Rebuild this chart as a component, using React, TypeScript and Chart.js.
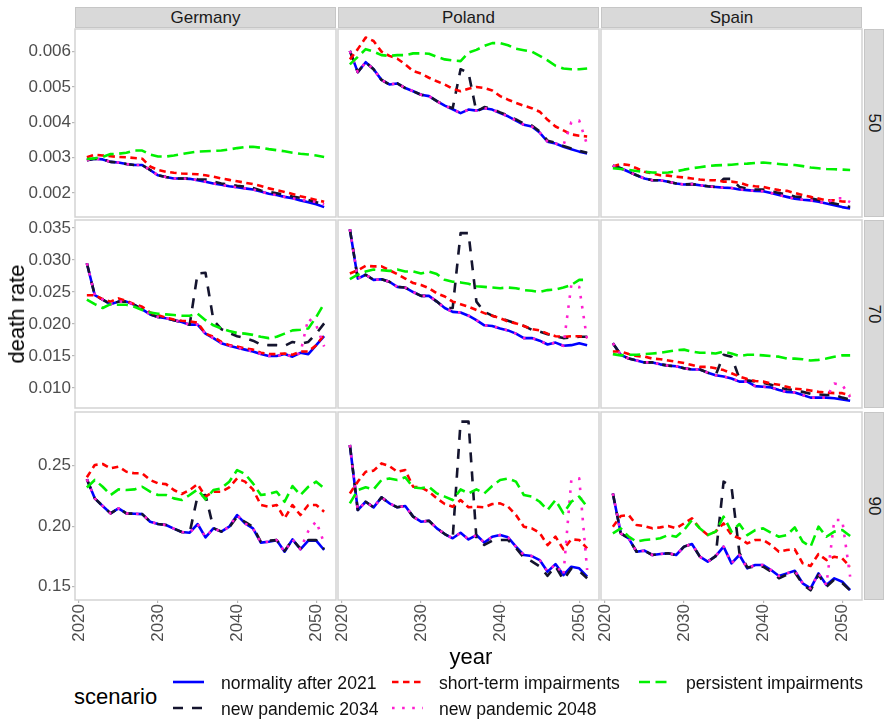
import { useEffect, useRef } from 'react';
import { Chart, registerables } from 'chart.js';

Chart.register(...registerables);

// ---------- data ----------
const years = [
  2021, 2022, 2023, 2024, 2025, 2026, 2027, 2028, 2029, 2030,
  2031, 2032, 2033, 2034, 2035, 2036, 2037, 2038, 2039, 2040,
  2041, 2042, 2043, 2044, 2045, 2046, 2047, 2048, 2049, 2050, 2051,
];
const countries = ['Germany', 'Poland', 'Spain'];
const ages = ['50', '70', '90'];
const scenarios = [
  'normality after 2021',
  'new pandemic 2034',
  'short-term impairments',
  'new pandemic 2048',
  'persistent impairments',
];
const xTicks = [2020, 2030, 2040, 2050];
const yTicks50 = [0.002, 0.003, 0.004, 0.005, 0.006];
const yTickLabels50 = ['0.002', '0.003', '0.004', '0.005', '0.006'];
const yTicks70 = [0.01, 0.015, 0.02, 0.025, 0.03, 0.035];
const yTickLabels70 = ['0.010', '0.015', '0.020', '0.025', '0.030', '0.035'];
const yTicks90 = [0.15, 0.2, 0.25];
const yTickLabels90 = ['0.15', '0.20', '0.25'];
const yRange50 = [0.00132, 0.00664];
const yRange70 = [0.00688, 0.03625];
const yRange90 = [0.139, 0.29438];

// the two pandemic scenarios follow "normality" until the year of the new outbreak
const PANDEMIC_2034_FROM = 13; // index of 2034
const PANDEMIC_2048_FROM = 27; // index of 2048

// Germany, age 50
const DE50_NORMAL = [
  0.00293, 0.00297, 0.00295, 0.00288, 0.00286, 0.00282, 0.00279, 0.00279, 0.00265, 0.0025,
  0.00245, 0.00241, 0.00241, 0.0024, 0.00236, 0.00232, 0.00227, 0.00223, 0.00219, 0.00216,
  0.00213, 0.0021, 0.00204, 0.00198, 0.00194, 0.00189, 0.00185, 0.00179, 0.00174, 0.00168, 0.0016,
];
const DE50_P2034_TAIL = [
  0.00241, 0.00239, 0.00238, 0.00232, 0.00227, 0.00224, 0.0022,
  0.00218, 0.00214, 0.00207, 0.00203, 0.00199, 0.00195, 0.0019, 0.00186, 0.0018, 0.00174, 0.00166,
];
const DE50_SHORT = [
  0.00301, 0.00308, 0.00306, 0.00304, 0.00302, 0.00301, 0.00299, 0.00297, 0.00275, 0.00265,
  0.0026, 0.00257, 0.00255, 0.00254, 0.00253, 0.0025, 0.00246, 0.00241, 0.00237, 0.00233,
  0.00229, 0.00225, 0.0022, 0.00213, 0.00208, 0.00203, 0.00197, 0.00191, 0.00186, 0.0018, 0.00175,
];
const DE50_P2048_TAIL = [0.00181, 0.00178, 0.00174, 0.00168];
const DE50_PERSIST = [
  0.00296, 0.00298, 0.00302, 0.0031, 0.00311, 0.00314, 0.0032, 0.0032, 0.00309, 0.00303,
  0.00303, 0.00306, 0.0031, 0.00314, 0.00317, 0.00318, 0.00319, 0.0032, 0.00323, 0.00327,
  0.0033, 0.00331, 0.00328, 0.00324, 0.00321, 0.00318, 0.00314, 0.00311, 0.00309, 0.00306, 0.00302,
];

// Poland, age 50
const PL50_NORMAL = [
  0.00602, 0.00542, 0.0057, 0.0055, 0.0052, 0.00507, 0.0051, 0.00497, 0.00488, 0.00478,
  0.00474, 0.0046, 0.00447, 0.00437, 0.00426, 0.00436, 0.00433, 0.0044, 0.00436, 0.00426,
  0.00417, 0.00405, 0.00393, 0.00388, 0.00371, 0.00345, 0.0034, 0.00331, 0.00324, 0.00317, 0.00312,
];
const PL50_P2034_TAIL = [
  0.0044, 0.0055, 0.0054, 0.0043, 0.00443, 0.00438, 0.00428,
  0.00419, 0.00408, 0.00396, 0.00391, 0.00374, 0.00348, 0.00342, 0.00333, 0.00326, 0.00319, 0.00314,
];
const PL50_SHORT = [
  0.00578, 0.00607, 0.0064, 0.0063, 0.006, 0.00588, 0.0058, 0.00564, 0.00545, 0.00538,
  0.00526, 0.00516, 0.00507, 0.00495, 0.00488, 0.00495, 0.005, 0.00497, 0.0049, 0.00474,
  0.00464, 0.00455, 0.00447, 0.0044, 0.0043, 0.00407, 0.00388, 0.00377, 0.00366, 0.00362, 0.0036,
];
const PL50_P2048_TAIL = [0.00335, 0.004, 0.00405, 0.00336];
const PL50_PERSIST = [
  0.00564, 0.00585, 0.00607, 0.006, 0.0059, 0.00588, 0.0059, 0.0059, 0.00595, 0.00595,
  0.00594, 0.00585, 0.00578, 0.00575, 0.00573, 0.00597, 0.00605, 0.00616, 0.00624, 0.00624,
  0.00618, 0.00608, 0.00604, 0.006, 0.00588, 0.00575, 0.0056, 0.00552, 0.0055, 0.0055, 0.00552,
];

// Spain, age 50
const ES50_NORMAL = [
  0.00277, 0.0027, 0.0026, 0.0025, 0.00241, 0.00236, 0.00236, 0.00232, 0.00227, 0.00224,
  0.00225, 0.00222, 0.00219, 0.00217, 0.00215, 0.00214, 0.0021, 0.00208, 0.00206, 0.00205,
  0.002, 0.00194, 0.00189, 0.00184, 0.00181, 0.00179, 0.00175, 0.0017, 0.00165, 0.0016, 0.00156,
];
const ES50_P2034_TAIL = [
  0.00217, 0.0024, 0.0024, 0.00217, 0.00212, 0.0021, 0.0021,
  0.00205, 0.002, 0.00195, 0.0019, 0.00188, 0.00185, 0.0018, 0.00175, 0.0017, 0.00165, 0.0016,
];
const ES50_SHORT = [
  0.00275, 0.00282, 0.00279, 0.0027, 0.0026, 0.00255, 0.0025, 0.00249, 0.00246, 0.00244,
  0.00241, 0.00238, 0.00236, 0.00236, 0.00232, 0.00232, 0.00229, 0.00222, 0.00219, 0.00217,
  0.00212, 0.00208, 0.00206, 0.002, 0.00194, 0.00189, 0.00184, 0.00179, 0.00179, 0.00176, 0.00175,
];
const ES50_P2048_TAIL = [0.0017, 0.00185, 0.00185, 0.00174];
const ES50_PERSIST = [
  0.0027, 0.00268, 0.00265, 0.00262, 0.0026, 0.00258, 0.00257, 0.00258, 0.00261, 0.00266,
  0.0027, 0.00273, 0.00276, 0.00278, 0.00279, 0.0028, 0.00282, 0.00283, 0.00285, 0.00286,
  0.00284, 0.00282, 0.0028, 0.00279, 0.00276, 0.00272, 0.0027, 0.00268, 0.00267, 0.00266, 0.00265,
];

// Germany, age 70
const DE70_NORMAL = [
  0.0295, 0.0245, 0.0238, 0.0231, 0.0235, 0.0235, 0.023, 0.0223, 0.0215, 0.0211,
  0.0209, 0.0206, 0.0203, 0.0199, 0.0199, 0.0185, 0.0178, 0.017, 0.0166, 0.0163,
  0.016, 0.0157, 0.0153, 0.015, 0.015, 0.0153, 0.0149, 0.0155, 0.0153, 0.0167, 0.0181,
];
const DE70_P2034_TAIL = [
  0.0199, 0.0279, 0.028, 0.0206, 0.0192, 0.0186, 0.0181,
  0.0178, 0.0174, 0.0168, 0.0167, 0.0167, 0.0166, 0.0172, 0.0169, 0.0172, 0.0185, 0.0201,
];
const DE70_SHORT = [
  0.0245, 0.0245, 0.0239, 0.0235, 0.024, 0.0236, 0.0231, 0.0227, 0.0218, 0.0214,
  0.021, 0.0207, 0.0205, 0.0204, 0.0202, 0.0185, 0.018, 0.0172, 0.0167, 0.0165,
  0.0162, 0.016, 0.0155, 0.0153, 0.0153, 0.0154, 0.0152, 0.0157, 0.0157, 0.0167, 0.0183,
];
const DE70_P2048_TAIL = [0.0155, 0.0209, 0.0198, 0.0165];
const DE70_PERSIST = [
  0.0238, 0.0231, 0.0225, 0.0231, 0.023, 0.023, 0.0227, 0.0222, 0.0218, 0.0216,
  0.0215, 0.0214, 0.0213, 0.0213, 0.0216, 0.0206, 0.0198, 0.0193, 0.0189, 0.0186,
  0.0185, 0.0183, 0.018, 0.0178, 0.018, 0.0185, 0.019, 0.0191, 0.0193, 0.0211, 0.0232,
];

// Poland, age 70
const PL70_NORMAL = [
  0.0348, 0.0271, 0.0277, 0.0269, 0.027, 0.0266, 0.0258, 0.0257, 0.025, 0.0244,
  0.0244, 0.0235, 0.0225, 0.0219, 0.0218, 0.0213, 0.0206, 0.0198, 0.0197, 0.0193,
  0.019, 0.0185, 0.0178, 0.0178, 0.0174, 0.0168, 0.0171, 0.0166, 0.0167, 0.017, 0.0167,
];
const PL70_P2034_TAIL = [
  0.0225, 0.0342, 0.0342, 0.0235, 0.0219, 0.0213, 0.0209,
  0.0205, 0.0201, 0.0197, 0.0191, 0.0188, 0.0184, 0.0181, 0.0178, 0.0179, 0.018, 0.018,
];
const PL70_SHORT = [
  0.0279, 0.0284, 0.0291, 0.029, 0.029, 0.0284, 0.0278, 0.0271, 0.0264, 0.0261,
  0.0256, 0.0248, 0.0243, 0.0235, 0.0231, 0.0227, 0.0222, 0.0217, 0.0213, 0.0209,
  0.0204, 0.0201, 0.0197, 0.0192, 0.019, 0.0185, 0.0181, 0.018, 0.0181, 0.0181, 0.0179,
];
const PL70_P2048_TAIL = [0.0166, 0.0261, 0.0258, 0.0175];
const PL70_PERSIST = [
  0.027, 0.0277, 0.0282, 0.0285, 0.0284, 0.0283, 0.0285, 0.0282, 0.0282, 0.0279,
  0.0282, 0.0278, 0.0269, 0.0266, 0.0265, 0.0263, 0.0259, 0.0258, 0.0257, 0.0256,
  0.0257, 0.0256, 0.0253, 0.0252, 0.025, 0.0253, 0.0254, 0.0257, 0.0261, 0.0269, 0.0269,
];

// Spain, age 70
const ES70_NORMAL = [
  0.017, 0.0152, 0.0146, 0.0143, 0.014, 0.014, 0.0137, 0.0135, 0.0134, 0.0131,
  0.0129, 0.0129, 0.0124, 0.012, 0.0118, 0.0115, 0.011, 0.011, 0.0103, 0.0102,
  0.0101, 0.0097, 0.0094, 0.0093, 0.0089, 0.0085, 0.0085, 0.0085, 0.0084, 0.0082, 0.008,
];
const ES70_P2034_TAIL = [
  0.012, 0.0152, 0.0149, 0.0115, 0.0112, 0.011, 0.0108,
  0.0105, 0.0101, 0.0098, 0.0097, 0.0094, 0.0091, 0.009, 0.0089, 0.0089, 0.0085, 0.0082,
];
const ES70_SHORT = [
  0.0157, 0.0157, 0.0153, 0.015, 0.0149, 0.0146, 0.0145, 0.0143, 0.0141, 0.0139,
  0.0136, 0.0133, 0.0133, 0.0131, 0.0128, 0.0123, 0.0118, 0.0114, 0.0111, 0.011,
  0.0107, 0.0105, 0.0102, 0.0099, 0.0098, 0.0096, 0.0094, 0.0093, 0.0092, 0.0092, 0.0089,
];
const ES70_P2048_TAIL = [0.0085, 0.0107, 0.0105, 0.0086];
const ES70_PERSIST = [
  0.0153, 0.0151, 0.0152, 0.0152, 0.0153, 0.0154, 0.0155, 0.0157, 0.0159, 0.016,
  0.0157, 0.0155, 0.0155, 0.0154, 0.0157, 0.0154, 0.015, 0.0152, 0.0152, 0.0151,
  0.015, 0.0149, 0.0146, 0.0146, 0.0145, 0.0143, 0.0144, 0.0146, 0.0149, 0.0151, 0.0151,
];

// Germany, age 90
const DE90_NORMAL = [
  0.2387, 0.223, 0.2167, 0.2106, 0.2147, 0.2106, 0.2103, 0.21, 0.2037, 0.2018,
  0.201, 0.198, 0.1952, 0.1946, 0.2018, 0.1908, 0.1982, 0.1955, 0.1996, 0.2092,
  0.2023, 0.1982, 0.1864, 0.1872, 0.1885, 0.1789, 0.1891, 0.1809, 0.188, 0.188, 0.1803,
];
const DE90_P2034_TAIL = [
  0.1946, 0.225, 0.2258, 0.1985, 0.1955, 0.199, 0.208,
  0.2035, 0.1995, 0.187, 0.188, 0.1885, 0.1795, 0.189, 0.1815, 0.1885, 0.1885, 0.181,
];
const DE90_SHORT = [
  0.2404, 0.2506, 0.2514, 0.2478, 0.2492, 0.245, 0.2437, 0.2437, 0.2382, 0.2354,
  0.2348, 0.2299, 0.2266, 0.2299, 0.2348, 0.2244, 0.2285, 0.2285, 0.2321, 0.2395,
  0.2368, 0.2304, 0.2175, 0.2161, 0.2175, 0.2065, 0.2175, 0.2092, 0.2175, 0.2175, 0.212,
];
const DE90_P2048_TAIL = [0.1809, 0.196, 0.204, 0.186];
const DE90_PERSIST = [
  0.232, 0.2382, 0.2326, 0.2258, 0.2304, 0.2299, 0.2304, 0.2326, 0.2285, 0.2258,
  0.2258, 0.223, 0.2216, 0.2258, 0.2304, 0.2222, 0.2299, 0.2313, 0.2368, 0.2464,
  0.2431, 0.2354, 0.2258, 0.2266, 0.2285, 0.2202, 0.2332, 0.2258, 0.2326, 0.2368, 0.2313,
];

// Poland, age 90
const PL90_NORMAL = [
  0.2671, 0.2134, 0.2202, 0.2156, 0.2238, 0.2189, 0.2156, 0.2167, 0.2079, 0.2037,
  0.2045, 0.1982, 0.1935, 0.19, 0.1946, 0.1891, 0.1927, 0.1864, 0.1913, 0.1927,
  0.1908, 0.1831, 0.1762, 0.1753, 0.172, 0.1624, 0.1687, 0.1596, 0.1665, 0.1652, 0.1583,
];
const PL90_P2034_TAIL = [
  0.19, 0.2864, 0.2864, 0.19, 0.1845, 0.188, 0.1886,
  0.1886, 0.182, 0.174, 0.171, 0.1668, 0.159, 0.167, 0.1555, 0.165, 0.163, 0.157,
];
const PL90_SHORT = [
  0.2271, 0.2368, 0.245, 0.2459, 0.2519, 0.2497, 0.245, 0.2464, 0.2326, 0.2321,
  0.2285, 0.223, 0.2183, 0.2161, 0.2216, 0.2156, 0.2161, 0.2156, 0.2183, 0.2189,
  0.2161, 0.2092, 0.1996, 0.1982, 0.1945, 0.1844, 0.1913, 0.1809, 0.1891, 0.1886, 0.1817,
];
const PL90_P2048_TAIL = [0.1596, 0.2382, 0.2395, 0.1638];
const PL90_PERSIST = [
  0.2189, 0.2299, 0.2321, 0.2304, 0.2382, 0.2395, 0.2382, 0.2404, 0.2321, 0.2313,
  0.2326, 0.2271, 0.2244, 0.2216, 0.2304, 0.2271, 0.2304, 0.2271, 0.2332, 0.2382,
  0.2395, 0.2368, 0.2258, 0.2244, 0.2202, 0.2134, 0.2216, 0.2106, 0.2202, 0.2244, 0.2161,
];

// Spain, age 90
const ES90_NORMAL = [
  0.2271, 0.1941, 0.19, 0.1789, 0.1798, 0.1762, 0.177, 0.1776, 0.1762, 0.1831,
  0.1853, 0.1748, 0.1707, 0.1753, 0.1831, 0.1693, 0.1762, 0.1652, 0.1679, 0.1679,
  0.1638, 0.1588, 0.161, 0.1632, 0.1528, 0.1486, 0.161, 0.1514, 0.1569, 0.1541, 0.1472,
];
const ES90_P2034_TAIL = [
  0.1753, 0.2368, 0.2326, 0.178, 0.166, 0.1665, 0.1665,
  0.1625, 0.157, 0.16, 0.162, 0.152, 0.147, 0.16, 0.15, 0.156, 0.153, 0.147,
];
const ES90_SHORT = [
  0.1996, 0.2084, 0.2092, 0.201, 0.2001, 0.1982, 0.199, 0.2001, 0.1982, 0.2023,
  0.2065, 0.1982, 0.1927, 0.1955, 0.2023, 0.1927, 0.19, 0.1858, 0.1886, 0.1886,
  0.1844, 0.1789, 0.1803, 0.1809, 0.1693, 0.1671, 0.177, 0.172, 0.1748, 0.1734, 0.1665,
];
const ES90_P2048_TAIL = [0.1514, 0.2051, 0.2051, 0.1583];
const ES90_PERSIST = [
  0.1941, 0.1982, 0.1913, 0.1872, 0.1886, 0.1891, 0.19, 0.1927, 0.1913, 0.1968,
  0.2051, 0.1982, 0.1927, 0.1955, 0.2079, 0.1955, 0.2018, 0.1927, 0.1968, 0.1982,
  0.1946, 0.1913, 0.1927, 0.199, 0.1872, 0.1831, 0.1996, 0.1913, 0.1955, 0.1968, 0.1919,
];

// ---------- assembly ----------
const withTail = (base: number[], from: number, tail: number[]) => [...base.slice(0, from), ...tail];

const panelSeries = (normal: number[], p2034: number[], short: number[], p2048: number[], persist: number[]) => [
  normal,
  withTail(normal, PANDEMIC_2034_FROM, p2034),
  short,
  withTail(normal, PANDEMIC_2048_FROM, p2048),
  persist,
];

const PANELS = [
  [
    panelSeries(DE50_NORMAL, DE50_P2034_TAIL, DE50_SHORT, DE50_P2048_TAIL, DE50_PERSIST),
    panelSeries(PL50_NORMAL, PL50_P2034_TAIL, PL50_SHORT, PL50_P2048_TAIL, PL50_PERSIST),
    panelSeries(ES50_NORMAL, ES50_P2034_TAIL, ES50_SHORT, ES50_P2048_TAIL, ES50_PERSIST),
  ],
  [
    panelSeries(DE70_NORMAL, DE70_P2034_TAIL, DE70_SHORT, DE70_P2048_TAIL, DE70_PERSIST),
    panelSeries(PL70_NORMAL, PL70_P2034_TAIL, PL70_SHORT, PL70_P2048_TAIL, PL70_PERSIST),
    panelSeries(ES70_NORMAL, ES70_P2034_TAIL, ES70_SHORT, ES70_P2048_TAIL, ES70_PERSIST),
  ],
  [
    panelSeries(DE90_NORMAL, DE90_P2034_TAIL, DE90_SHORT, DE90_P2048_TAIL, DE90_PERSIST),
    panelSeries(PL90_NORMAL, PL90_P2034_TAIL, PL90_SHORT, PL90_P2048_TAIL, PL90_PERSIST),
    panelSeries(ES90_NORMAL, ES90_P2034_TAIL, ES90_SHORT, ES90_P2048_TAIL, ES90_PERSIST),
  ],
];

const rowTicks = [yTicks50, yTicks70, yTicks90];
const rowTickLabels = [yTickLabels50, yTickLabels70, yTickLabels90];
const rowRanges = [yRange50, yRange70, yRange90];

// ---------- styling ----------
const FONT = '"Liberation Sans", Arial, Helvetica, sans-serif';
const SCENARIO_COLORS = ['#0000ff', '#14142e', '#ff0000', '#ff1fcf', '#00f000'];
const SCENARIO_DASH: number[][] = [[], [10, 9], [6.5, 4.5], [2.6, 7.5], [11, 5.5]];
const LINE_W = 2.6;
const TICK_TEXT = '#4d4d4d';
const TICK_MARK = '#b8b8b8';
const FRAME = '#d3d3d3';
const STRIP_FILL = '#d9d9d9';
const STRIP_EDGE = '#c6c6c6';

const PANEL_LEFT = [75, 338, 601];
const PANEL_TOP = [29, 220, 412];
const PANEL_W = 261;
const PANEL_H = 188;
const PAD = 6;
const Y_AXIS_W = 75;
const X_AXIS_H = 50;
const X_MIN = 2019.5;
const X_MAX = 2052.5;

const framePlugin = {
  id: 'panelFrame',
  afterDatasetsDraw(chart: any) {
    const { ctx, chartArea: a } = chart;
    ctx.save();
    ctx.strokeStyle = FRAME;
    ctx.lineWidth = 1.5;
    ctx.strokeRect(a.left, a.top, a.right - a.left, a.bottom - a.top);
    ctx.restore();
  },
};

function Panel({ row, col }: { row: number; col: number }) {
  const ref = useRef<HTMLCanvasElement>(null);
  const showY = col === 0;
  const showX = row === 2;
  const padL = showY ? Y_AXIS_W : PAD;
  const padB = showX ? X_AXIS_H : PAD;
  const width = PANEL_W + padL + PAD;
  const height = PANEL_H + PAD + padB;

  useEffect(() => {
    const series = PANELS[row][col];
    const ticks = rowTicks[row];
    const labels = rowTickLabels[row];
    const [yMin, yMax] = rowRanges[row];
    const tickFont = { family: FONT, size: 17 };

    const chart = new Chart(ref.current as HTMLCanvasElement, {
      type: 'line',
      data: {
        datasets: scenarios.map((name, i) => ({
          label: name,
          data: years.map((x, j) => ({ x, y: series[i][j] })),
          borderColor: SCENARIO_COLORS[i],
          borderDash: SCENARIO_DASH[i],
          borderWidth: LINE_W,
          borderCapStyle: 'butt',
          borderJoinStyle: 'round',
          pointRadius: 0,
          tension: 0,
          fill: false,
          order: scenarios.length - i,
        })),
      },
      options: {
        animation: false,
        responsive: false,
        maintainAspectRatio: false,
        devicePixelRatio: 1,
        events: [],
        layout: {
          padding: { left: showY ? 0 : PAD, right: PAD, top: PAD, bottom: showX ? 0 : PAD },
        },
        plugins: { legend: { display: false }, tooltip: { enabled: false } },
        scales: {
          x: {
            type: 'linear',
            min: X_MIN,
            max: X_MAX,
            display: showX,
            afterBuildTicks: (s: any) => {
              s.ticks = xTicks.map((value) => ({ value }));
            },
            afterFit: (s: any) => {
              if (!showX) return;
              s.height = X_AXIS_H;
              s.paddingLeft = 0;
              s.paddingRight = 0;
            },
            ticks: {
              autoSkip: false,
              minRotation: 90,
              maxRotation: 90,
              padding: 1,
              color: TICK_TEXT,
              font: tickFont,
              callback: (v: any) => String(v),
            },
            grid: { drawOnChartArea: false, drawTicks: true, tickLength: 3, color: TICK_MARK, lineWidth: 1.2 },
            border: { display: false },
          },
          y: {
            type: 'linear',
            min: yMin,
            max: yMax,
            display: showY,
            afterBuildTicks: (s: any) => {
              s.ticks = ticks.map((value) => ({ value }));
            },
            afterFit: (s: any) => {
              if (!showY) return;
              s.width = Y_AXIS_W;
              s.paddingTop = 0;
              s.paddingBottom = 0;
            },
            ticks: {
              autoSkip: false,
              padding: 1,
              color: TICK_TEXT,
              font: tickFont,
              callback: (_v: any, i: number) => labels[i],
            },
            grid: { drawOnChartArea: false, drawTicks: true, tickLength: 3, color: TICK_MARK, lineWidth: 1.2 },
            border: { display: false },
          },
        },
      } as any,
      plugins: [framePlugin],
    });
    return () => chart.destroy();
  }, [row, col]);

  return (
    <canvas
      ref={ref}
      width={width}
      height={height}
      style={{
        position: 'absolute',
        left: PANEL_LEFT[col] - padL,
        top: PANEL_TOP[row] - PAD,
        width,
        height,
      }}
    />
  );
}

function LegendKey({ i }: { i: number }) {
  return (
    <svg width={31} height={8} style={{ display: 'block' }}>
      <line
        x1={0}
        y1={4}
        x2={31}
        y2={4}
        stroke={SCENARIO_COLORS[i]}
        strokeWidth={LINE_W}
        strokeDasharray={SCENARIO_DASH[i].length ? SCENARIO_DASH[i].join(' ') : undefined}
      />
    </svg>
  );
}

// legend slots in the order the scenarios are listed
const LEGEND_KEY_X = [173, 173, 392, 392, 639];
const LEGEND_TEXT_X = [221, 221, 439, 439, 686];
const LEGEND_ROW_Y = [682.5, 709, 682.5, 709, 682.5];

export default function App() {
  return (
    <div
      style={{
        position: 'absolute',
        left: 0,
        top: 0,
        width: 884,
        height: 721,
        background: '#ffffff',
        fontFamily: FONT,
        overflow: 'hidden',
      }}
    >
      {countries.map((c, col) => (
        <div
          key={c}
          style={{
            position: 'absolute',
            left: PANEL_LEFT[col],
            top: 7,
            width: PANEL_W,
            height: 21,
            boxSizing: 'border-box',
            background: STRIP_FILL,
            border: `1px solid ${STRIP_EDGE}`,
            display: 'flex',
            alignItems: 'center',
            justifyContent: 'center',
            fontSize: 17,
            color: '#1a1a1a',
          }}
        >
          {c}
        </div>
      ))}
      {ages.map((a, row) => (
        <div
          key={a}
          style={{
            position: 'absolute',
            left: 864,
            top: PANEL_TOP[row],
            width: 20,
            height: PANEL_H,
            boxSizing: 'border-box',
            background: STRIP_FILL,
            border: `1px solid ${STRIP_EDGE}`,
            display: 'flex',
            alignItems: 'center',
            justifyContent: 'center',
            fontSize: 17,
            color: '#1a1a1a',
          }}
        >
          <span style={{ transform: 'rotate(90deg)', whiteSpace: 'nowrap' }}>{a}</span>
        </div>
      ))}

      {ages.map((a, row) =>
        countries.map((c, col) => <Panel key={`${a}-${c}`} row={row} col={col} />)
      )}

      <div
        style={{
          position: 'absolute',
          left: 17,
          top: 314,
          transform: 'translate(-50%, -50%) rotate(-90deg)',
          whiteSpace: 'nowrap',
          fontSize: 22,
          color: '#000',
        }}
      >
        death rate
      </div>
      <div
        style={{
          position: 'absolute',
          left: 471,
          top: 657,
          transform: 'translate(-50%, -50%)',
          whiteSpace: 'nowrap',
          fontSize: 22,
          color: '#000',
        }}
      >
        year
      </div>
      <div
        style={{
          position: 'absolute',
          left: 74,
          top: 697,
          transform: 'translateY(-50%)',
          whiteSpace: 'nowrap',
          fontSize: 22,
          color: '#000',
        }}
      >
        scenario
      </div>

      {scenarios.map((s, i) => (
        <div key={s}>
          <div style={{ position: 'absolute', left: LEGEND_KEY_X[i], top: LEGEND_ROW_Y[i] - 5 }}>
            <LegendKey i={i} />
          </div>
          <div
            style={{
              position: 'absolute',
              left: LEGEND_TEXT_X[i],
              top: LEGEND_ROW_Y[i],
              transform: 'translateY(-50%)',
              whiteSpace: 'nowrap',
              fontSize: 17.6,
              color: '#111',
            }}
          >
            {s}
          </div>
        </div>
      ))}
    </div>
  );
}
